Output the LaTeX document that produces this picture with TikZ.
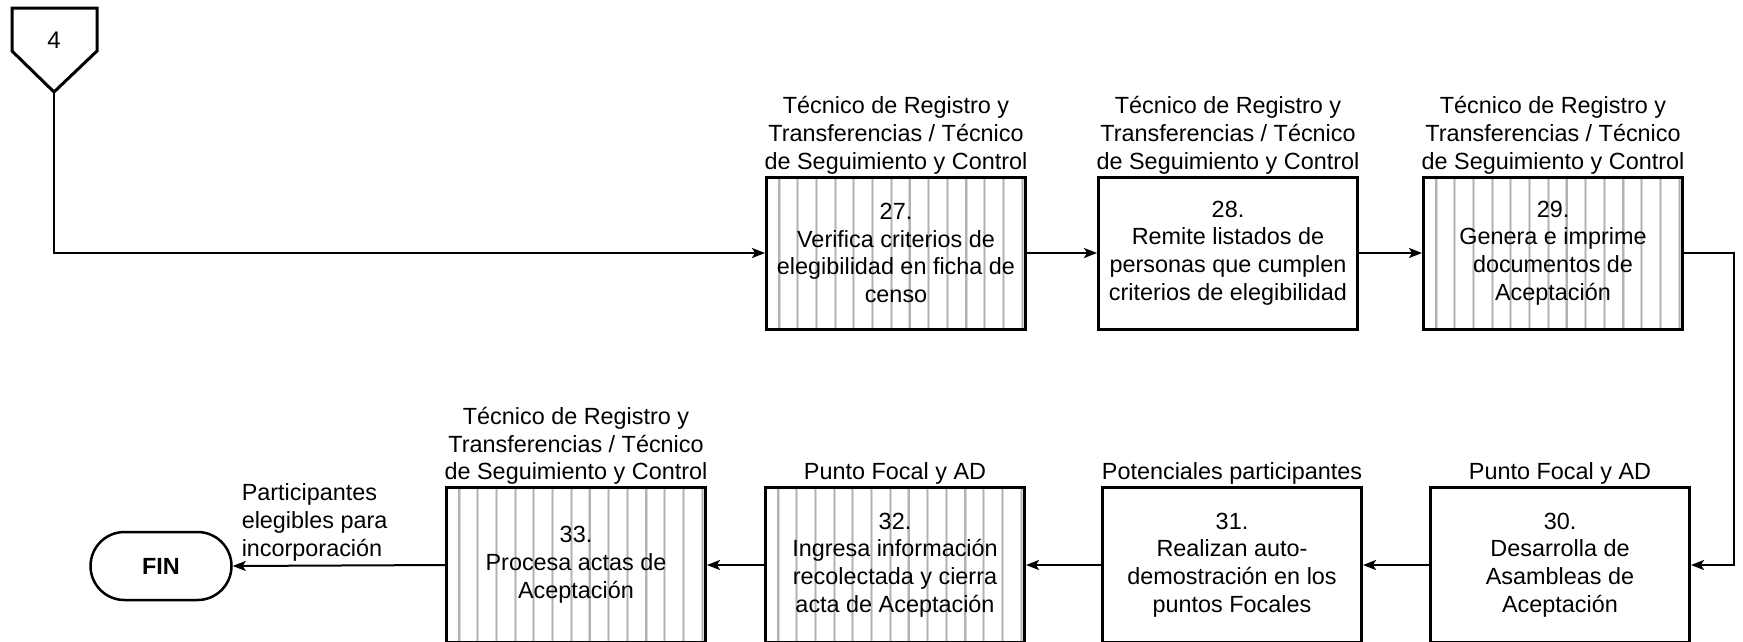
\documentclass[tikz,border=0pt]{standalone}
\usepackage{fontspec}
\setmainfont{Liberation Sans}
\usetikzlibrary{arrows.meta,positioning}

\begin{document}
\begin{tikzpicture}[
  x=1pt, y=-1pt,
  font=\fontsize{23.4}{27.8}\selectfont,
  task/.style={draw, line width=3pt, fill=white, minimum width=259pt,
               minimum height=152pt, inner sep=0pt, align=center},
  low/.style={minimum height=155pt},
  striped/.style={task, path picture={
      \foreach \k in {0,...,13}
        \draw[draw=gray!30, line width=0.9pt, double=gray!60, double distance=1.2pt]
          ([xshift=12.5pt+\k*18.7pt]path picture bounding box.north west) --
          ([xshift=12.5pt+\k*18.7pt]path picture bounding box.south west);}},
  role/.style={align=center, inner sep=1pt},
  flow/.style={draw, line width=2pt, -{Stealth[length=13pt, width=10pt, inset=3pt]}},
  term/.style={draw, line width=2.5pt, rounded corners=34pt, minimum width=141pt,
               minimum height=68pt, font=\fontsize{23.4}{27.8}\selectfont\bfseries},
]
\useasboundingbox (0,0) rectangle (1743,641);

% ---------------- off-page connector ----------------
\draw[line width=3pt, line join=miter] (12,8) -- (97,8) -- (97,51) -- (54,92) -- (12,51) -- cycle;
\node (c4) at (54,40) {\fontsize{24}{28}\selectfont 4};
\coordinate (c4tip) at (54,92);

% ---------------- top row ----------------
\node[striped] (b27) at (896,253) {27.\\Verifica criterios de\\elegibilidad en ficha de\\censo};
\node[task]    (b28) at (1228,253) {28.\\Remite listados de\\personas que cumplen\\criterios de elegibilidad};
\node[striped] (b29) at (1553,253) {29.\\Genera e imprime\\documentos de\\Aceptación};

\node[role, above=0pt of b27] (r27) {Técnico de Registro y\\Transferencias / Técnico\\de Seguimiento y Control};
\node[role, above=0pt of b28] (r28) {Técnico de Registro y\\Transferencias / Técnico\\de Seguimiento y Control};
\node[role, above=0pt of b29] (r29) {Técnico de Registro y\\Transferencias / Técnico\\de Seguimiento y Control};

% ---------------- bottom row (runs off the page) ----------------
\node[task, low]    (b30) at (1560,565) {30.\\Desarrolla de\\Asambleas de\\Aceptación};
\node[task, low]    (b31) at (1232,565) {31.\\Realizan auto-\\demostración en los\\puntos Focales};
\node[striped, low] (b32) at (895,565) {32.\\Ingresa información\\recolectada y cierra\\acta de Aceptación};
\node[striped, low] (b33) at (576,565) {33.\\Procesa actas de\\Aceptación};

\node[role, above=0pt of b30] (r30) {Punto Focal y AD};
\node[role, above=0pt of b31] (r31) {Potenciales participantes};
\node[role, above=0pt of b32] (r32) {Punto Focal y AD};
\node[role, above=0pt of b33] (r33) {Técnico de Registro y\\Transferencias / Técnico\\de Seguimiento y Control};

\node[term] (fin) at (161,566) {FIN};

% ---------------- connectors ----------------
\coordinate (back) at (1734,253);
\draw[flow] (c4tip) |- (b27.west);
\draw[flow] (b27) -- (b28);
\draw[flow] (b28) -- (b29);
\draw[flow] (b29.east) -- (back) |- (b30.east);
\draw[flow] (b30) -- (b31);
\draw[flow] (b31) -- (b32);
\draw[flow] (b32) -- (b33);
\draw[flow] (b33.west) -- (fin.east)
  node[pos=1, anchor=south west, align=left, inner sep=4pt, xshift=4pt] (outl)
  {Participantes\\elegibles para\\incorporación};

\end{tikzpicture}
\end{document}
